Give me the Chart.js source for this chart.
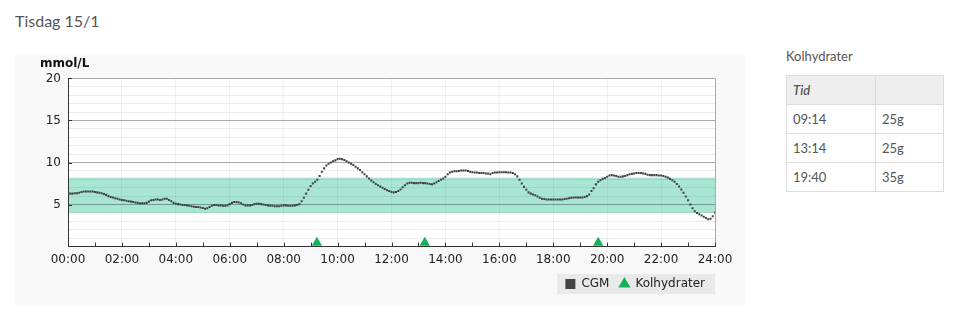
<!DOCTYPE html>
<html>
<head>
<meta charset="utf-8">
<script src="https://cdn.jsdelivr.net/npm/chart.js@4.4.1/dist/chart.umd.min.js"></script>
<style>
  body { margin: 0; width: 965px; height: 328px; background: #fff; font-family: Lato, "Open Sans", sans-serif; color: #555; position: relative; overflow: hidden; }
  .day { position: absolute; left: 15px; top: 11px; font-size: 16px; }
  .chart-box { position: absolute; left: 15px; top: 55px; width: 730px; height: 250px; background: #f8f8f8; }
  .side { position: absolute; left: 786px; top: 48px; width: 158px; }
  .side h3 { margin: 0 0 11px; font-size: 13px; font-weight: normal; }
  table { border-collapse: collapse; width: 158px; font-size: 13px; color: #555; }
  td, th { border: 1px solid #ddd; padding: 0 6px; height: 28px; text-align: left; }
  th { background: #eee; font-style: italic; font-weight: 600; }
  td:first-child, th:first-child { width: 76px; }
</style>
</head>
<body>
<div class="day">Tisdag 15/1</div>
<div class="chart-box"><canvas id="cgmChart" width="730" height="250"></canvas></div>
<div class="side">
  <h3>Kolhydrater</h3>
  <table id="carbTable"></table>
</div>

<script>
// CGM readings every 5 minutes from 00:00 to 24:00 (mmol/L)
const CGM_STEP_MIN = 5;
const CGM_VALUES = [
  6.3, 6.3, 6.3, 6.35, 6.35, 6.4, 6.5, 6.55, 6.55, 6.55, 6.55, 6.55,
  6.5, 6.45, 6.4, 6.35, 6.25, 6.15, 6.0, 5.9, 5.85, 5.75, 5.7, 5.6,
  5.55, 5.5, 5.45, 5.4, 5.35, 5.3, 5.25, 5.2, 5.15, 5.15, 5.15, 5.2,
  5.35, 5.5, 5.55, 5.6, 5.6, 5.55, 5.6, 5.7, 5.7, 5.55, 5.4, 5.2,
  5.1, 5.05, 5.0, 4.95, 4.95, 4.9, 4.85, 4.8, 4.75, 4.7, 4.7, 4.65,
  4.6, 4.5, 4.55, 4.7, 4.85, 4.95, 4.95, 4.9, 4.9, 4.85, 4.85, 4.9,
  5.05, 5.2, 5.3, 5.3, 5.25, 5.15, 5.0, 4.9, 4.9, 4.9, 4.95, 5.05,
  5.1, 5.1, 5.05, 5.0, 4.95, 4.9, 4.85, 4.85, 4.8, 4.8, 4.8, 4.85,
  4.9, 4.9, 4.85, 4.85, 4.85, 4.9, 4.95, 5.05, 5.4, 5.8, 6.3, 6.75,
  7.2, 7.5, 7.7, 7.95, 8.4, 8.9, 9.3, 9.65, 9.85, 10.0, 10.15, 10.25,
  10.4, 10.45, 10.4, 10.3, 10.15, 10.0, 9.85, 9.7, 9.5, 9.3, 9.1, 8.85,
  8.6, 8.35, 8.1, 7.85, 7.65, 7.45, 7.3, 7.15, 7.0, 6.85, 6.7, 6.6,
  6.5, 6.45, 6.5, 6.6, 6.8, 7.05, 7.3, 7.5, 7.6, 7.6, 7.55, 7.55,
  7.55, 7.6, 7.55, 7.55, 7.5, 7.45, 7.4, 7.5, 7.65, 7.8, 7.95, 8.1,
  8.3, 8.6, 8.8, 8.9, 8.95, 8.95, 9.0, 9.05, 9.05, 9.05, 9.0, 8.9,
  8.85, 8.8, 8.8, 8.75, 8.75, 8.75, 8.7, 8.7, 8.6, 8.75, 8.8, 8.8,
  8.85, 8.85, 8.85, 8.85, 8.8, 8.8, 8.75, 8.6, 8.35, 7.95, 7.5, 7.1,
  6.75, 6.45, 6.3, 6.2, 6.1, 5.95, 5.8, 5.7, 5.65, 5.6, 5.6, 5.6,
  5.6, 5.6, 5.6, 5.6, 5.6, 5.65, 5.7, 5.75, 5.8, 5.85, 5.85, 5.85,
  5.85, 5.85, 5.9, 6.0, 6.2, 6.6, 6.95, 7.4, 7.7, 7.9, 8.05, 8.15,
  8.3, 8.45, 8.5, 8.45, 8.4, 8.3, 8.3, 8.35, 8.4, 8.5, 8.6, 8.65,
  8.7, 8.75, 8.75, 8.75, 8.7, 8.65, 8.55, 8.5, 8.5, 8.5, 8.5, 8.45,
  8.45, 8.4, 8.3, 8.2, 8.05, 7.9, 7.7, 7.45, 7.15, 6.8, 6.4, 5.95,
  5.5, 5.0, 4.55, 4.2, 4.0, 3.85, 3.7, 3.55, 3.4, 3.25, 3.3, 3.6,
  4.05
];

const CARB_TIMES = ['09:14', '13:14', '19:40'];
const CARB_GRAMS = ['25g', '25g', '35g'];

const TARGET_RANGE = [4, 8.2];
const Y_LABELS = [5, 10, 15, 20];
const X_HOURS = [0, 1, 2, 3, 4, 5, 6, 7, 8, 9, 10, 11, 12, 13, 14, 15, 16, 17, 18, 19, 20, 21, 22, 23, 24];

const toMin = t => { const [h, m] = t.split(':').map(Number); return h * 60 + m; };
const fmt = v => String(Math.floor(v / 60)).padStart(2, '0') + ':00';

// side table
const table = document.getElementById('carbTable');
table.innerHTML = '<tr><th>Tid</th><th></th></tr>' +
  CARB_TIMES.map((t, i) => `<tr><td>${t}</td><td>${CARB_GRAMS[i]}</td></tr>`).join('');

const MARKER_LEVEL = 0.45;
const cgmPoints = CGM_VALUES.map((v, i) => ({ x: i * CGM_STEP_MIN, y: v }));
const carbPoints = CARB_TIMES.map(t => ({ x: toMin(t), y: MARKER_LEVEL }));

const tickFont = { family: 'DejaVu Sans', size: 12 };

// plot background, target band, legend box and inner tick marks
const decor = {
  id: 'decor',
  beforeDraw(chart) {
    const { ctx, chartArea: a, scales: { y } } = chart;
    ctx.save();
    ctx.fillStyle = '#fff';
    ctx.fillRect(a.left, a.top, a.right - a.left, a.bottom - a.top);
    const top = y.getPixelForValue(TARGET_RANGE[1]);
    const bot = y.getPixelForValue(TARGET_RANGE[0]);
    ctx.fillStyle = '#a8e6d3';
    ctx.fillRect(a.left, top, a.right - a.left, bot - top);

    const boxes = chart.legend.legendHitBoxes;
    if (boxes && boxes.length) {
      const l = Math.min(...boxes.map(b => b.left)) - 8;
      const r = Math.max(...boxes.map(b => b.left + b.width)) + 10;
      const t = Math.min(...boxes.map(b => b.top)) - 4;
      const bb = Math.max(...boxes.map(b => b.top + b.height)) + 4;
      ctx.fillStyle = '#e9e9e9';
      ctx.fillRect(l, t, r - l, bb - t);
    }
    ctx.restore();
  },
  beforeDatasetsDraw(chart) {
    const { ctx, chartArea: a, scales: { x, y } } = chart;
    ctx.save();
    ctx.strokeStyle = '#333';
    ctx.lineWidth = 1;
    ctx.beginPath();
    X_HOURS.forEach(h => {
      const px = Math.round(x.getPixelForValue(h * 60)) + 0.5;
      ctx.moveTo(px, a.bottom);
      ctx.lineTo(px, a.bottom - 4);
    });
    Y_LABELS.forEach(v => {
      const py = Math.round(y.getPixelForValue(v)) + 0.5;
      ctx.moveTo(a.left, py);
      ctx.lineTo(a.left + 4, py);
    });
    ctx.stroke();
    ctx.restore();
  }
};

new Chart(document.getElementById('cgmChart'), {
  type: 'scatter',
  data: {
    datasets: [
      {
        label: 'CGM',
        data: cgmPoints,
        pointStyle: 'rect',
        pointRadius: 1.45,
        backgroundColor: '#444',
        borderColor: '#444',
        borderWidth: 0,
        showLine: false
      },
      {
        label: 'Kolhydrater',
        data: carbPoints,
        pointStyle: 'triangle',
        pointRadius: 6,
        backgroundColor: '#14b05e',
        borderColor: '#14b05e',
        borderWidth: 0,
        clip: false
      }
    ]
  },
  options: {
    responsive: false,
    animation: false,
    layout: { padding: { left: 25, right: 30, top: 2, bottom: 5 } },
    plugins: {
      title: {
        display: true,
        text: 'mmol/L',
        align: 'start',
        color: '#111',
        font: { family: 'DejaVu Sans', size: 12, weight: 'bold' },
        padding: { top: 0, bottom: 7 }
      },
      legend: {
        position: 'bottom',
        align: 'end',
        labels: {
          usePointStyle: true,
          boxWidth: 10,
          boxHeight: 10,
          padding: 10,
          color: '#222',
          font: tickFont
        }
      },
      tooltip: { enabled: false }
    },
    scales: {
      x: {
        type: 'linear',
        min: 0,
        max: 1440,
        afterBuildTicks: s => { s.ticks = X_HOURS.map(h => ({ value: h * 60 })); },
        afterFit: s => { s.height = s.height - 5; },
        grid: {
          drawTicks: false,
          color: c => c.tick.value === 1440 ? '#aaa' : (c.tick.value % 120 === 0 ? 'rgba(0,0,0,0.05)' : 'rgba(0,0,0,0)')
        },
        border: { color: '#333' },
        ticks: {
          autoSkip: false,
          maxRotation: 0,
          padding: 6,
          color: '#222',
          font: tickFont,
          callback: v => v % 120 === 0 ? fmt(v) : ''
        }
      },
      y: {
        min: 0,
        max: 20,
        afterBuildTicks: s => { s.ticks = Array.from({ length: 21 }, (_, i) => ({ value: i })); },
        afterFit: s => { s.width = 28; },
        grid: {
          drawTicks: false,
          color: c => c.tick.value % 5 === 0 ? 'rgba(0,0,0,0.33)' : 'rgba(0,0,0,0.07)'
        },
        border: { color: '#333' },
        ticks: {
          autoSkip: false,
          padding: 7,
          color: '#222',
          font: tickFont,
          callback: v => Y_LABELS.includes(v) ? v : ''
        }
      }
    }
  },
  plugins: [decor]
});
</script>
</body>
</html>
